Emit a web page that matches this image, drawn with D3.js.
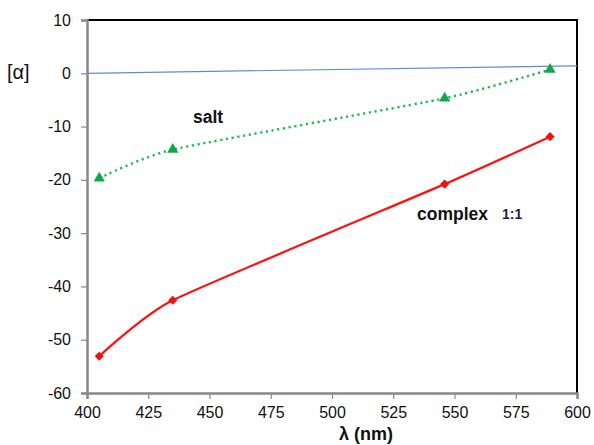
<!DOCTYPE html>
<html>
<head>
<meta charset="utf-8">
<script src="https://cdn.jsdelivr.net/npm/d3@7"></script>
<style>
  html, body { margin: 0; padding: 0; background: #fff; }
  svg { display: block; font-family: "Liberation Sans", Arial, sans-serif; }
</style>
</head>
<body>
<svg id="chart" width="594" height="445"></svg>
<script>
// Wavelengths (nm) and specific rotation values
const wavelengths = [405, 435, 546, 589];
const saltValues = [-19.7, -14.3, -4.7, 0.7];
const complexValues = [-53.1, -42.6, -20.8, -11.9];
const baselineX = [400, 600];
const baselineY = [0, 1.4];
const xTicks = [400, 425, 450, 475, 500, 525, 550, 575, 600];
const yTicks = [10, 0, -10, -20, -30, -40, -50, -60];

const svg = d3.select("#chart");
const m = { left: 87, right: 577, top: 20, bottom: 393 };

const x = d3.scaleLinear().domain([400, 600]).range([m.left, m.right]);
const y = d3.scaleLinear().domain([-60, 10]).range([m.bottom, m.top]);
const fmt = d => String(d); // plain hyphen-minus

// Frame: top and right edges in black
svg.append("path")
  .attr("d", `M${m.left},${m.top}H${m.right}V${m.bottom}`)
  .attr("fill", "none").attr("stroke", "#000").attr("stroke-width", 2);

// Axes
const xAxis = svg.append("g")
  .attr("transform", `translate(0,${m.bottom})`)
  .call(d3.axisBottom(x).tickValues(xTicks).tickFormat(fmt).tickSize(6).tickPadding(8));
const yAxis = svg.append("g")
  .attr("transform", `translate(${m.left},0)`)
  .call(d3.axisLeft(y).tickValues(yTicks).tickFormat(fmt).tickSize(6).tickPadding(10));

[xAxis, yAxis].forEach(g => {
  g.select(".domain").attr("stroke", "#888").attr("stroke-width", 2.5);
  g.selectAll(".tick line").attr("stroke", "#888").attr("stroke-width", 1.2);
  g.selectAll(".tick text").attr("fill", "#111")
    .style("font-size", "16px").style("font-family", "'Liberation Sans', Arial, sans-serif");
});

// Zero reference line
svg.append("line")
  .attr("x1", x(baselineX[0])).attr("y1", y(baselineY[0]))
  .attr("x2", x(baselineX[1])).attr("y2", y(baselineY[1]))
  .attr("stroke", "#5b8fd0").attr("stroke-width", 1.2);

const line = d3.line()
  .x((d, i) => x(wavelengths[i]))
  .y(d => y(d))
  .curve(d3.curveCardinal.tension(0.5));

// Salt series: dotted green with triangles
svg.append("path")
  .attr("d", line(saltValues))
  .attr("fill", "none").attr("stroke", "#1db954").attr("stroke-width", 2.4)
  .attr("stroke-dasharray", "2.2,3.6").attr("stroke-linecap", "butt");

svg.selectAll(".tri").data(saltValues).join("path")
  .attr("class", "tri")
  .attr("transform", (d, i) => `translate(${x(wavelengths[i])},${y(d)})`)
  .attr("d", d3.symbol(d3.symbolTriangle, 55)())
  .attr("fill", "#12a84a");

// Complex series: solid red with diamonds
svg.append("path")
  .attr("d", line(complexValues))
  .attr("fill", "none").attr("stroke", "#ff1010").attr("stroke-width", 2.2);

svg.selectAll(".dia").data(complexValues).join("path")
  .attr("class", "dia")
  .attr("transform", (d, i) => `translate(${x(wavelengths[i])},${y(d)}) rotate(45)`)
  .attr("d", d3.symbol(d3.symbolSquare, 42)())
  .attr("fill", "#ee1111");

// Series labels
svg.append("text").attr("x", 193).attr("y", 123)
  .style("font-size", "17.5px").style("font-weight", "bold").attr("fill", "#111")
  .text("salt");
svg.append("text").attr("x", 417).attr("y", 220)
  .style("font-size", "17.5px").style("font-weight", "bold").attr("fill", "#111")
  .text("complex");
svg.append("text").attr("x", 502).attr("y", 219)
  .style("font-size", "14px").style("font-weight", "bold").attr("fill", "#1f1f4f")
  .text("1:1");

// Axis titles
svg.append("text").attr("x", 366).attr("y", 440).attr("text-anchor", "middle")
  .style("font-size", "18px").style("font-weight", "bold").attr("fill", "#111")
  .text("λ (nm)");
svg.append("text").attr("x", 7).attr("y", 79)
  .style("font-size", "20px").attr("fill", "#111")
  .text("[α]");
</script>
</body>
</html>
